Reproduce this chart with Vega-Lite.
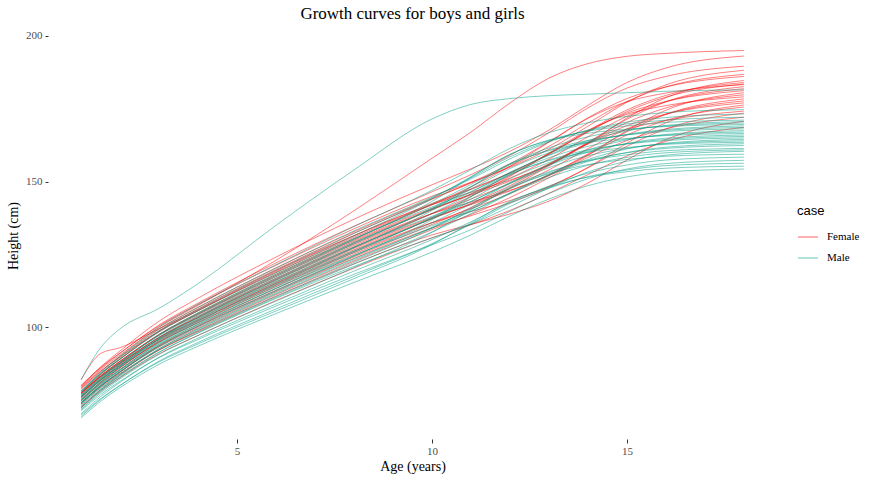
{
"$schema":"https://vega.github.io/schema/vega-lite/v6.json",
"width":729,"height":407,
"autosize":"none",
"padding":{"left":48,"top":32,"right":99,"bottom":45},
"background":"white",
"title":{"text":"Growth curves for boys and girls","font":"Liberation Serif","fontSize":17,"fontWeight":"normal","color":"#000000","anchor":"middle","offset":7},
"config":{
"view":{"stroke":null},
"axis":{"domain":false,"grid":false,"tickColor":"#333333","labelFont":"Liberation Serif","labelFontSize":11,"labelColor":"#4D4D4D","titleFont":"Liberation Serif","titleFontSize":14,"titleFontWeight":"normal","titleColor":"#000000"},
"axisX":{"tickSize":4,"labelPadding":2,"titlePadding":3},
"axisY":{"tickSize":3,"labelPadding":3,"titlePadding":5},
"legend":{"padding":0}
},
"data":{"values":[
{"i":1,"c":"F","a":1,"h":72.4},{"i":1,"c":"F","a":1.5,"h":78.1},{"i":1,"c":"F","a":2,"h":82.7},{"i":1,"c":"F","a":3,"h":90.9},{"i":1,"c":"F","a":4,"h":97.2},{"i":1,"c":"F","a":6,"h":109.2},{"i":1,"c":"F","a":8,"h":120.3},{"i":1,"c":"F","a":10,"h":130.7},{"i":1,"c":"F","a":11,"h":135.2},{"i":1,"c":"F","a":12,"h":140.1},{"i":1,"c":"F","a":13,"h":146.0},{"i":1,"c":"F","a":14,"h":152.4},{"i":1,"c":"F","a":15,"h":158.8},{"i":1,"c":"F","a":16,"h":163.8},{"i":1,"c":"F","a":18,"h":168.6},
{"i":2,"c":"F","a":1,"h":74.1},{"i":2,"c":"F","a":1.5,"h":79.7},{"i":2,"c":"F","a":2,"h":84.2},{"i":2,"c":"F","a":3,"h":92.2},{"i":2,"c":"F","a":4,"h":98.5},{"i":2,"c":"F","a":6,"h":110.6},{"i":2,"c":"F","a":8,"h":121.8},{"i":2,"c":"F","a":10,"h":131.7},{"i":2,"c":"F","a":11,"h":135.3},{"i":2,"c":"F","a":12,"h":138.9},{"i":2,"c":"F","a":13,"h":143.3},{"i":2,"c":"F","a":14,"h":149.5},{"i":2,"c":"F","a":15,"h":157.4},{"i":2,"c":"F","a":16,"h":164.4},{"i":2,"c":"F","a":18,"h":170.7},
{"i":3,"c":"F","a":1,"h":72.6},{"i":3,"c":"F","a":1.5,"h":78.6},{"i":3,"c":"F","a":2,"h":83.5},{"i":3,"c":"F","a":3,"h":92.2},{"i":3,"c":"F","a":4,"h":98.9},{"i":3,"c":"F","a":6,"h":111.2},{"i":3,"c":"F","a":8,"h":122.7},{"i":3,"c":"F","a":10,"h":133.5},{"i":3,"c":"F","a":11,"h":138.7},{"i":3,"c":"F","a":12,"h":144.5},{"i":3,"c":"F","a":13,"h":151.3},{"i":3,"c":"F","a":14,"h":158.3},{"i":3,"c":"F","a":15,"h":164.1},{"i":3,"c":"F","a":16,"h":168.1},{"i":3,"c":"F","a":18,"h":172.1},
{"i":4,"c":"F","a":1,"h":74.1},{"i":4,"c":"F","a":1.5,"h":79.9},{"i":4,"c":"F","a":2,"h":84.7},{"i":4,"c":"F","a":3,"h":93.2},{"i":4,"c":"F","a":4,"h":99.8},{"i":4,"c":"F","a":6,"h":112.2},{"i":4,"c":"F","a":8,"h":123.7},{"i":4,"c":"F","a":10,"h":134.1},{"i":4,"c":"F","a":11,"h":138.3},{"i":4,"c":"F","a":12,"h":142.7},{"i":4,"c":"F","a":13,"h":148.1},{"i":4,"c":"F","a":14,"h":154.7},{"i":4,"c":"F","a":15,"h":162.1},{"i":4,"c":"F","a":16,"h":168.1},{"i":4,"c":"F","a":18,"h":173.5},
{"i":5,"c":"F","a":1,"h":74.8},{"i":5,"c":"F","a":1.5,"h":80.6},{"i":5,"c":"F","a":2,"h":85.3},{"i":5,"c":"F","a":3,"h":93.7},{"i":5,"c":"F","a":4,"h":100.3},{"i":5,"c":"F","a":6,"h":112.7},{"i":5,"c":"F","a":8,"h":124.2},{"i":5,"c":"F","a":10,"h":135.3},{"i":5,"c":"F","a":11,"h":141.1},{"i":5,"c":"F","a":12,"h":147.8},{"i":5,"c":"F","a":13,"h":155.4},{"i":5,"c":"F","a":14,"h":162.9},{"i":5,"c":"F","a":15,"h":168.0},{"i":5,"c":"F","a":16,"h":171.0},{"i":5,"c":"F","a":18,"h":174.2},
{"i":6,"c":"F","a":1,"h":73.3},{"i":6,"c":"F","a":1.5,"h":79.5},{"i":6,"c":"F","a":2,"h":84.6},{"i":6,"c":"F","a":3,"h":93.7},{"i":6,"c":"F","a":4,"h":100.6},{"i":6,"c":"F","a":6,"h":113.3},{"i":6,"c":"F","a":8,"h":125.1},{"i":6,"c":"F","a":10,"h":135.9},{"i":6,"c":"F","a":11,"h":140.7},{"i":6,"c":"F","a":12,"h":145.9},{"i":6,"c":"F","a":13,"h":152.2},{"i":6,"c":"F","a":14,"h":159.2},{"i":6,"c":"F","a":15,"h":166.0},{"i":6,"c":"F","a":16,"h":171.0},{"i":6,"c":"F","a":18,"h":175.6},
{"i":7,"c":"F","a":1,"h":76.1},{"i":7,"c":"F","a":1.5,"h":81.7},{"i":7,"c":"F","a":2,"h":86.4},{"i":7,"c":"F","a":3,"h":94.9},{"i":7,"c":"F","a":4,"h":101.5},{"i":7,"c":"F","a":6,"h":114.0},{"i":7,"c":"F","a":8,"h":125.6},{"i":7,"c":"F","a":10,"h":135.9},{"i":7,"c":"F","a":11,"h":139.7},{"i":7,"c":"F","a":12,"h":143.5},{"i":7,"c":"F","a":13,"h":148.3},{"i":7,"c":"F","a":14,"h":154.9},{"i":7,"c":"F","a":15,"h":163.2},{"i":7,"c":"F","a":16,"h":170.2},{"i":7,"c":"F","a":18,"h":176.3},
{"i":8,"c":"F","a":1,"h":75.3},{"i":8,"c":"F","a":1.5,"h":81.2},{"i":8,"c":"F","a":2,"h":86.1},{"i":8,"c":"F","a":3,"h":94.9},{"i":8,"c":"F","a":4,"h":101.7},{"i":8,"c":"F","a":6,"h":114.4},{"i":8,"c":"F","a":8,"h":126.1},{"i":8,"c":"F","a":10,"h":137.2},{"i":8,"c":"F","a":11,"h":142.5},{"i":8,"c":"F","a":12,"h":148.6},{"i":8,"c":"F","a":13,"h":155.7},{"i":8,"c":"F","a":14,"h":163.1},{"i":8,"c":"F","a":15,"h":169.2},{"i":8,"c":"F","a":16,"h":173.2},{"i":8,"c":"F","a":18,"h":177.0},
{"i":9,"c":"F","a":1,"h":77.5},{"i":9,"c":"F","a":1.5,"h":83.1},{"i":9,"c":"F","a":2,"h":87.6},{"i":9,"c":"F","a":3,"h":95.9},{"i":9,"c":"F","a":4,"h":102.4},{"i":9,"c":"F","a":6,"h":115.0},{"i":9,"c":"F","a":8,"h":126.6},{"i":9,"c":"F","a":10,"h":137.4},{"i":9,"c":"F","a":11,"h":142.3},{"i":9,"c":"F","a":12,"h":147.7},{"i":9,"c":"F","a":13,"h":154.0},{"i":9,"c":"F","a":14,"h":161.3},{"i":9,"c":"F","a":15,"h":168.1},{"i":9,"c":"F","a":16,"h":173.1},{"i":9,"c":"F","a":18,"h":177.7},
{"i":10,"c":"F","a":1,"h":74.8},{"i":10,"c":"F","a":1.5,"h":80.9},{"i":10,"c":"F","a":2,"h":86.1},{"i":10,"c":"F","a":3,"h":95.2},{"i":10,"c":"F","a":4,"h":102.2},{"i":10,"c":"F","a":6,"h":115.1},{"i":10,"c":"F","a":8,"h":127.1},{"i":10,"c":"F","a":10,"h":137.7},{"i":10,"c":"F","a":11,"h":142.1},{"i":10,"c":"F","a":12,"h":146.8},{"i":10,"c":"F","a":13,"h":152.4},{"i":10,"c":"F","a":14,"h":159.5},{"i":10,"c":"F","a":15,"h":167.1},{"i":10,"c":"F","a":16,"h":173.1},{"i":10,"c":"F","a":18,"h":178.4},
{"i":11,"c":"F","a":1,"h":76.0},{"i":11,"c":"F","a":1.5,"h":82.0},{"i":11,"c":"F","a":2,"h":86.9},{"i":11,"c":"F","a":3,"h":95.8},{"i":11,"c":"F","a":4,"h":102.8},{"i":11,"c":"F","a":6,"h":115.6},{"i":11,"c":"F","a":8,"h":127.5},{"i":11,"c":"F","a":10,"h":139.0},{"i":11,"c":"F","a":11,"h":144.9},{"i":11,"c":"F","a":12,"h":151.8},{"i":11,"c":"F","a":13,"h":159.8},{"i":11,"c":"F","a":14,"h":167.6},{"i":11,"c":"F","a":15,"h":173.1},{"i":11,"c":"F","a":16,"h":176.1},{"i":11,"c":"F","a":18,"h":179.1},
{"i":12,"c":"F","a":1,"h":77.3},{"i":12,"c":"F","a":1.5,"h":83.0},{"i":12,"c":"F","a":2,"h":87.8},{"i":12,"c":"F","a":3,"h":96.5},{"i":12,"c":"F","a":4,"h":103.3},{"i":12,"c":"F","a":6,"h":116.2},{"i":12,"c":"F","a":8,"h":128.0},{"i":12,"c":"F","a":10,"h":139.0},{"i":12,"c":"F","a":11,"h":144.0},{"i":12,"c":"F","a":12,"h":149.4},{"i":12,"c":"F","a":13,"h":155.9},{"i":12,"c":"F","a":14,"h":163.3},{"i":12,"c":"F","a":15,"h":170.3},{"i":12,"c":"F","a":16,"h":175.3},{"i":12,"c":"F","a":18,"h":179.8},
{"i":13,"c":"F","a":1,"h":76.5},{"i":13,"c":"F","a":1.5,"h":82.5},{"i":13,"c":"F","a":2,"h":87.5},{"i":13,"c":"F","a":3,"h":96.5},{"i":13,"c":"F","a":4,"h":103.5},{"i":13,"c":"F","a":6,"h":116.5},{"i":13,"c":"F","a":8,"h":128.5},{"i":13,"c":"F","a":10,"h":139.0},{"i":13,"c":"F","a":11,"h":143.0},{"i":13,"c":"F","a":12,"h":147.0},{"i":13,"c":"F","a":13,"h":152.0},{"i":13,"c":"F","a":14,"h":159.0},{"i":13,"c":"F","a":15,"h":167.5},{"i":13,"c":"F","a":16,"h":174.5},{"i":13,"c":"F","a":18,"h":180.5},
{"i":14,"c":"F","a":1,"h":75.7},{"i":14,"c":"F","a":1.5,"h":82.0},{"i":14,"c":"F","a":2,"h":87.2},{"i":14,"c":"F","a":3,"h":96.5},{"i":14,"c":"F","a":4,"h":103.7},{"i":14,"c":"F","a":6,"h":116.8},{"i":14,"c":"F","a":8,"h":129.0},{"i":14,"c":"F","a":10,"h":140.3},{"i":14,"c":"F","a":11,"h":145.8},{"i":14,"c":"F","a":12,"h":152.1},{"i":14,"c":"F","a":13,"h":159.4},{"i":14,"c":"F","a":14,"h":167.2},{"i":14,"c":"F","a":15,"h":173.5},{"i":14,"c":"F","a":16,"h":177.5},{"i":14,"c":"F","a":18,"h":181.2},
{"i":15,"c":"F","a":1,"h":77.5},{"i":15,"c":"F","a":1.5,"h":83.4},{"i":15,"c":"F","a":2,"h":88.4},{"i":15,"c":"F","a":3,"h":97.3},{"i":15,"c":"F","a":4,"h":104.3},{"i":15,"c":"F","a":6,"h":117.4},{"i":15,"c":"F","a":8,"h":129.5},{"i":15,"c":"F","a":10,"h":140.5},{"i":15,"c":"F","a":11,"h":145.6},{"i":15,"c":"F","a":12,"h":151.2},{"i":15,"c":"F","a":13,"h":157.7},{"i":15,"c":"F","a":14,"h":165.4},{"i":15,"c":"F","a":15,"h":172.4},{"i":15,"c":"F","a":16,"h":177.4},{"i":15,"c":"F","a":18,"h":181.9},
{"i":16,"c":"F","a":1,"h":77.2},{"i":16,"c":"F","a":1.5,"h":83.3},{"i":16,"c":"F","a":2,"h":88.3},{"i":16,"c":"F","a":3,"h":97.5},{"i":16,"c":"F","a":4,"h":104.6},{"i":16,"c":"F","a":6,"h":117.8},{"i":16,"c":"F","a":8,"h":129.9},{"i":16,"c":"F","a":10,"h":140.8},{"i":16,"c":"F","a":11,"h":145.4},{"i":16,"c":"F","a":12,"h":150.2},{"i":16,"c":"F","a":13,"h":156.1},{"i":16,"c":"F","a":14,"h":163.5},{"i":16,"c":"F","a":15,"h":171.4},{"i":16,"c":"F","a":16,"h":177.4},{"i":16,"c":"F","a":18,"h":182.6},
{"i":17,"c":"F","a":1,"h":77.0},{"i":17,"c":"F","a":1.5,"h":83.1},{"i":17,"c":"F","a":2,"h":88.3},{"i":17,"c":"F","a":3,"h":97.6},{"i":17,"c":"F","a":4,"h":104.9},{"i":17,"c":"F","a":6,"h":118.2},{"i":17,"c":"F","a":8,"h":130.4},{"i":17,"c":"F","a":10,"h":142.1},{"i":17,"c":"F","a":11,"h":148.2},{"i":17,"c":"F","a":12,"h":155.3},{"i":17,"c":"F","a":13,"h":163.5},{"i":17,"c":"F","a":14,"h":171.7},{"i":17,"c":"F","a":15,"h":177.4},{"i":17,"c":"F","a":16,"h":180.4},{"i":17,"c":"F","a":18,"h":183.3},
{"i":18,"c":"F","a":1,"h":79.2},{"i":18,"c":"F","a":1.5,"h":85.0},{"i":18,"c":"F","a":2,"h":89.8},{"i":18,"c":"F","a":3,"h":98.7},{"i":18,"c":"F","a":4,"h":105.7},{"i":18,"c":"F","a":6,"h":118.8},{"i":18,"c":"F","a":8,"h":130.9},{"i":18,"c":"F","a":10,"h":142.1},{"i":18,"c":"F","a":11,"h":147.3},{"i":18,"c":"F","a":12,"h":152.9},{"i":18,"c":"F","a":13,"h":159.6},{"i":18,"c":"F","a":14,"h":167.4},{"i":18,"c":"F","a":15,"h":174.6},{"i":18,"c":"F","a":16,"h":179.6},{"i":18,"c":"F","a":18,"h":184.0},
{"i":19,"c":"F","a":1,"h":77.9},{"i":19,"c":"F","a":1.5,"h":84.1},{"i":19,"c":"F","a":2,"h":89.2},{"i":19,"c":"F","a":3,"h":98.5},{"i":19,"c":"F","a":4,"h":105.7},{"i":19,"c":"F","a":6,"h":119.1},{"i":19,"c":"F","a":8,"h":131.4},{"i":19,"c":"F","a":10,"h":142.1},{"i":19,"c":"F","a":11,"h":146.3},{"i":19,"c":"F","a":12,"h":150.5},{"i":19,"c":"F","a":13,"h":155.7},{"i":19,"c":"F","a":14,"h":163.1},{"i":19,"c":"F","a":15,"h":171.8},{"i":19,"c":"F","a":16,"h":178.8},{"i":19,"c":"F","a":18,"h":184.7},
{"i":20,"c":"F","a":1,"h":77.4},{"i":20,"c":"F","a":1.5,"h":83.8},{"i":20,"c":"F","a":2,"h":89.1},{"i":20,"c":"F","a":3,"h":98.8},{"i":20,"c":"F","a":4,"h":106.3},{"i":20,"c":"F","a":6,"h":119.8},{"i":20,"c":"F","a":8,"h":132.3},{"i":20,"c":"F","a":10,"h":143.9},{"i":20,"c":"F","a":11,"h":149.7},{"i":20,"c":"F","a":12,"h":156.1},{"i":20,"c":"F","a":13,"h":163.7},{"i":20,"c":"F","a":14,"h":171.9},{"i":20,"c":"F","a":15,"h":178.5},{"i":20,"c":"F","a":16,"h":182.5},{"i":20,"c":"F","a":18,"h":186.1},
{"i":21,"c":"F","a":1,"h":78.7},{"i":21,"c":"F","a":1.5,"h":84.8},{"i":21,"c":"F","a":2,"h":90.0},{"i":21,"c":"F","a":3,"h":99.5},{"i":21,"c":"F","a":4,"h":106.8},{"i":21,"c":"F","a":6,"h":120.4},{"i":21,"c":"F","a":8,"h":132.8},{"i":21,"c":"F","a":10,"h":144.2},{"i":21,"c":"F","a":11,"h":149.5},{"i":21,"c":"F","a":12,"h":155.2},{"i":21,"c":"F","a":13,"h":162.1},{"i":21,"c":"F","a":14,"h":170.1},{"i":21,"c":"F","a":15,"h":177.5},{"i":21,"c":"F","a":16,"h":182.5},{"i":21,"c":"F","a":18,"h":186.8},
{"i":22,"c":"F","a":1,"h":80.1},{"i":22,"c":"F","a":1.5,"h":86.2},{"i":22,"c":"F","a":2,"h":91.2},{"i":22,"c":"F","a":3,"h":100.5},{"i":22,"c":"F","a":4,"h":107.8},{"i":22,"c":"F","a":6,"h":121.3},{"i":22,"c":"F","a":8,"h":133.8},{"i":22,"c":"F","a":10,"h":145.0},{"i":22,"c":"F","a":11,"h":149.8},{"i":22,"c":"F","a":12,"h":154.9},{"i":22,"c":"F","a":13,"h":161.1},{"i":22,"c":"F","a":14,"h":169.0},{"i":22,"c":"F","a":15,"h":177.2},{"i":22,"c":"F","a":16,"h":183.2},{"i":22,"c":"F","a":18,"h":188.2},
{"i":23,"c":"F","a":1,"h":79.6},{"i":23,"c":"F","a":1.5,"h":85.9},{"i":23,"c":"F","a":2,"h":91.1},{"i":23,"c":"F","a":3,"h":100.8},{"i":23,"c":"F","a":4,"h":108.3},{"i":23,"c":"F","a":6,"h":122.1},{"i":23,"c":"F","a":8,"h":134.7},{"i":23,"c":"F","a":10,"h":146.5},{"i":23,"c":"F","a":11,"h":152.4},{"i":23,"c":"F","a":12,"h":159.0},{"i":23,"c":"F","a":13,"h":166.8},{"i":23,"c":"F","a":14,"h":175.3},{"i":23,"c":"F","a":15,"h":182.1},{"i":23,"c":"F","a":16,"h":186.1},{"i":23,"c":"F","a":18,"h":189.6},
{"i":24,"c":"F","a":1,"h":79.8},{"i":24,"c":"F","a":1.5,"h":86.4},{"i":24,"c":"F","a":2,"h":91.9},{"i":24,"c":"F","a":3,"h":102.1},{"i":24,"c":"F","a":4,"h":110.0},{"i":24,"c":"F","a":6,"h":124.1},{"i":24,"c":"F","a":8,"h":137.1},{"i":24,"c":"F","a":10,"h":148.9},{"i":24,"c":"F","a":11,"h":154.4},{"i":24,"c":"F","a":12,"h":160.4},{"i":24,"c":"F","a":13,"h":167.7},{"i":24,"c":"F","a":14,"h":176.2},{"i":24,"c":"F","a":15,"h":184.0},{"i":24,"c":"F","a":16,"h":189.0},{"i":24,"c":"F","a":18,"h":193.1},
{"i":25,"c":"F","a":1,"h":79.0},{"i":25,"c":"F","a":1.5,"h":85.5},{"i":25,"c":"F","a":2,"h":90.5},{"i":25,"c":"F","a":3,"h":100.0},{"i":25,"c":"F","a":4,"h":107.5},{"i":25,"c":"F","a":6,"h":123.0},{"i":25,"c":"F","a":8,"h":140.0},{"i":25,"c":"F","a":10,"h":158.0},{"i":25,"c":"F","a":11,"h":167.0},{"i":25,"c":"F","a":12,"h":177.0},{"i":25,"c":"F","a":13,"h":185.5},{"i":25,"c":"F","a":14,"h":190.5},{"i":25,"c":"F","a":15,"h":193.0},{"i":25,"c":"F","a":16,"h":194.0},{"i":25,"c":"F","a":18,"h":195.0},
{"i":26,"c":"F","a":1,"h":82.0},{"i":26,"c":"F","a":1.5,"h":91.0},{"i":26,"c":"F","a":2,"h":93.0},{"i":26,"c":"F","a":3,"h":99.5},{"i":26,"c":"F","a":4,"h":106.0},{"i":26,"c":"F","a":6,"h":119.5},{"i":26,"c":"F","a":8,"h":131.5},{"i":26,"c":"F","a":10,"h":142.5},{"i":26,"c":"F","a":11,"h":147.5},{"i":26,"c":"F","a":12,"h":153.0},{"i":26,"c":"F","a":13,"h":159.5},{"i":26,"c":"F","a":14,"h":167.0},{"i":26,"c":"F","a":15,"h":174.0},{"i":26,"c":"F","a":16,"h":179.0},{"i":26,"c":"F","a":18,"h":183.5},
{"i":31,"c":"M","a":1,"h":68.9},{"i":31,"c":"M","a":1.5,"h":74.6},{"i":31,"c":"M","a":2,"h":79.3},{"i":31,"c":"M","a":3,"h":87.3},{"i":31,"c":"M","a":4,"h":93.5},{"i":31,"c":"M","a":6,"h":104.7},{"i":31,"c":"M","a":8,"h":115.4},{"i":31,"c":"M","a":10,"h":125.8},{"i":31,"c":"M","a":11,"h":131.7},{"i":31,"c":"M","a":12,"h":138.2},{"i":31,"c":"M","a":13,"h":144.0},{"i":31,"c":"M","a":14,"h":148.6},{"i":31,"c":"M","a":15,"h":151.6},{"i":31,"c":"M","a":16,"h":153.3},{"i":31,"c":"M","a":18,"h":154.3},
{"i":32,"c":"M","a":1,"h":69.9},{"i":32,"c":"M","a":1.5,"h":75.5},{"i":32,"c":"M","a":2,"h":80.1},{"i":32,"c":"M","a":3,"h":88.1},{"i":32,"c":"M","a":4,"h":94.3},{"i":32,"c":"M","a":6,"h":105.6},{"i":32,"c":"M","a":8,"h":116.7},{"i":32,"c":"M","a":10,"h":128.4},{"i":32,"c":"M","a":11,"h":135.8},{"i":32,"c":"M","a":12,"h":143.2},{"i":32,"c":"M","a":13,"h":148.1},{"i":32,"c":"M","a":14,"h":151.5},{"i":32,"c":"M","a":15,"h":153.4},{"i":32,"c":"M","a":16,"h":154.6},{"i":32,"c":"M","a":18,"h":155.3},
{"i":33,"c":"M","a":1,"h":69.4},{"i":33,"c":"M","a":1.5,"h":75.2},{"i":33,"c":"M","a":2,"h":80.0},{"i":33,"c":"M","a":3,"h":88.4},{"i":33,"c":"M","a":4,"h":94.8},{"i":33,"c":"M","a":6,"h":106.3},{"i":33,"c":"M","a":8,"h":117.5},{"i":33,"c":"M","a":10,"h":128.7},{"i":33,"c":"M","a":11,"h":135.4},{"i":33,"c":"M","a":12,"h":142.5},{"i":33,"c":"M","a":13,"h":147.7},{"i":33,"c":"M","a":14,"h":151.7},{"i":33,"c":"M","a":15,"h":154.0},{"i":33,"c":"M","a":16,"h":155.5},{"i":33,"c":"M","a":18,"h":156.3},
{"i":34,"c":"M","a":1,"h":71.3},{"i":34,"c":"M","a":1.5,"h":76.9},{"i":34,"c":"M","a":2,"h":81.5},{"i":34,"c":"M","a":3,"h":89.6},{"i":34,"c":"M","a":4,"h":95.8},{"i":34,"c":"M","a":6,"h":107.3},{"i":34,"c":"M","a":8,"h":118.2},{"i":34,"c":"M","a":10,"h":128.3},{"i":34,"c":"M","a":11,"h":133.5},{"i":34,"c":"M","a":12,"h":139.8},{"i":34,"c":"M","a":13,"h":145.9},{"i":34,"c":"M","a":14,"h":151.0},{"i":34,"c":"M","a":15,"h":154.3},{"i":34,"c":"M","a":16,"h":156.2},{"i":34,"c":"M","a":18,"h":157.3},
{"i":35,"c":"M","a":1,"h":70.3},{"i":35,"c":"M","a":1.5,"h":76.2},{"i":35,"c":"M","a":2,"h":81.1},{"i":35,"c":"M","a":3,"h":89.7},{"i":35,"c":"M","a":4,"h":96.3},{"i":35,"c":"M","a":6,"h":108.0},{"i":35,"c":"M","a":8,"h":119.3},{"i":35,"c":"M","a":10,"h":130.1},{"i":35,"c":"M","a":11,"h":136.2},{"i":35,"c":"M","a":12,"h":142.9},{"i":35,"c":"M","a":13,"h":148.5},{"i":35,"c":"M","a":14,"h":152.9},{"i":35,"c":"M","a":15,"h":155.7},{"i":35,"c":"M","a":16,"h":157.4},{"i":35,"c":"M","a":18,"h":158.4},
{"i":36,"c":"M","a":1,"h":71.7},{"i":36,"c":"M","a":1.5,"h":77.5},{"i":36,"c":"M","a":2,"h":82.3},{"i":36,"c":"M","a":3,"h":90.7},{"i":36,"c":"M","a":4,"h":97.2},{"i":36,"c":"M","a":6,"h":109.0},{"i":36,"c":"M","a":8,"h":120.5},{"i":36,"c":"M","a":10,"h":132.6},{"i":36,"c":"M","a":11,"h":140.3},{"i":36,"c":"M","a":12,"h":147.8},{"i":36,"c":"M","a":13,"h":152.7},{"i":36,"c":"M","a":14,"h":155.8},{"i":36,"c":"M","a":15,"h":157.6},{"i":36,"c":"M","a":16,"h":158.7},{"i":36,"c":"M","a":18,"h":159.4},
{"i":37,"c":"M","a":1,"h":72.7},{"i":37,"c":"M","a":1.5,"h":78.4},{"i":37,"c":"M","a":2,"h":83.1},{"i":37,"c":"M","a":3,"h":91.5},{"i":37,"c":"M","a":4,"h":98.0},{"i":37,"c":"M","a":6,"h":109.9},{"i":37,"c":"M","a":8,"h":120.9},{"i":37,"c":"M","a":10,"h":130.7},{"i":37,"c":"M","a":11,"h":135.4},{"i":37,"c":"M","a":12,"h":141.4},{"i":37,"c":"M","a":13,"h":147.8},{"i":37,"c":"M","a":14,"h":153.3},{"i":37,"c":"M","a":15,"h":157.0},{"i":37,"c":"M","a":16,"h":159.1},{"i":37,"c":"M","a":18,"h":160.4},
{"i":38,"c":"M","a":1,"h":71.9},{"i":38,"c":"M","a":1.5,"h":77.9},{"i":38,"c":"M","a":2,"h":82.8},{"i":38,"c":"M","a":3,"h":91.4},{"i":38,"c":"M","a":4,"h":98.2},{"i":38,"c":"M","a":6,"h":110.2},{"i":38,"c":"M","a":8,"h":121.7},{"i":38,"c":"M","a":10,"h":132.7},{"i":38,"c":"M","a":11,"h":139.0},{"i":38,"c":"M","a":12,"h":145.8},{"i":38,"c":"M","a":13,"h":151.4},{"i":38,"c":"M","a":14,"h":155.6},{"i":38,"c":"M","a":15,"h":158.3},{"i":38,"c":"M","a":16,"h":159.9},{"i":38,"c":"M","a":18,"h":160.9},
{"i":39,"c":"M","a":1,"h":73.7},{"i":39,"c":"M","a":1.5,"h":79.3},{"i":39,"c":"M","a":2,"h":83.9},{"i":39,"c":"M","a":3,"h":92.3},{"i":39,"c":"M","a":4,"h":98.8},{"i":39,"c":"M","a":6,"h":110.7},{"i":39,"c":"M","a":8,"h":122.3},{"i":39,"c":"M","a":10,"h":134.0},{"i":39,"c":"M","a":11,"h":141.0},{"i":39,"c":"M","a":12,"h":148.3},{"i":39,"c":"M","a":13,"h":153.4},{"i":39,"c":"M","a":14,"h":157.1},{"i":39,"c":"M","a":15,"h":159.2},{"i":39,"c":"M","a":16,"h":160.6},{"i":39,"c":"M","a":18,"h":161.4},
{"i":40,"c":"M","a":1,"h":73.1},{"i":40,"c":"M","a":1.5,"h":79.0},{"i":40,"c":"M","a":2,"h":83.9},{"i":40,"c":"M","a":3,"h":92.6},{"i":40,"c":"M","a":4,"h":99.3},{"i":40,"c":"M","a":6,"h":111.5},{"i":40,"c":"M","a":8,"h":123.1},{"i":40,"c":"M","a":10,"h":134.3},{"i":40,"c":"M","a":11,"h":140.6},{"i":40,"c":"M","a":12,"h":147.5},{"i":40,"c":"M","a":13,"h":153.1},{"i":40,"c":"M","a":14,"h":157.3},{"i":40,"c":"M","a":15,"h":159.9},{"i":40,"c":"M","a":16,"h":161.4},{"i":40,"c":"M","a":18,"h":162.4},
{"i":41,"c":"M","a":1,"h":72.4},{"i":41,"c":"M","a":1.5,"h":78.5},{"i":41,"c":"M","a":2,"h":83.6},{"i":41,"c":"M","a":3,"h":92.6},{"i":41,"c":"M","a":4,"h":99.5},{"i":41,"c":"M","a":6,"h":111.8},{"i":41,"c":"M","a":8,"h":123.5},{"i":41,"c":"M","a":10,"h":134.1},{"i":41,"c":"M","a":11,"h":139.7},{"i":41,"c":"M","a":12,"h":146.2},{"i":41,"c":"M","a":13,"h":152.2},{"i":41,"c":"M","a":14,"h":156.9},{"i":41,"c":"M","a":15,"h":160.0},{"i":41,"c":"M","a":16,"h":161.8},{"i":41,"c":"M","a":18,"h":163.0},
{"i":42,"c":"M","a":1,"h":74.1},{"i":42,"c":"M","a":1.5,"h":79.9},{"i":42,"c":"M","a":2,"h":84.7},{"i":42,"c":"M","a":3,"h":93.4},{"i":42,"c":"M","a":4,"h":100.2},{"i":42,"c":"M","a":6,"h":112.4},{"i":42,"c":"M","a":8,"h":124.4},{"i":42,"c":"M","a":10,"h":136.9},{"i":42,"c":"M","a":11,"h":144.8},{"i":42,"c":"M","a":12,"h":152.5},{"i":42,"c":"M","a":13,"h":157.2},{"i":42,"c":"M","a":14,"h":160.1},{"i":42,"c":"M","a":15,"h":161.7},{"i":42,"c":"M","a":16,"h":162.8},{"i":42,"c":"M","a":18,"h":163.5},
{"i":43,"c":"M","a":1,"h":73.8},{"i":43,"c":"M","a":1.5,"h":79.8},{"i":43,"c":"M","a":2,"h":84.7},{"i":43,"c":"M","a":3,"h":93.5},{"i":43,"c":"M","a":4,"h":100.4},{"i":43,"c":"M","a":6,"h":112.7},{"i":43,"c":"M","a":8,"h":124.6},{"i":43,"c":"M","a":10,"h":135.9},{"i":43,"c":"M","a":11,"h":142.3},{"i":43,"c":"M","a":12,"h":149.3},{"i":43,"c":"M","a":13,"h":154.8},{"i":43,"c":"M","a":14,"h":158.9},{"i":43,"c":"M","a":15,"h":161.4},{"i":43,"c":"M","a":16,"h":163.0},{"i":43,"c":"M","a":18,"h":164.0},
{"i":44,"c":"M","a":1,"h":75.0},{"i":44,"c":"M","a":1.5,"h":80.8},{"i":44,"c":"M","a":2,"h":85.6},{"i":44,"c":"M","a":3,"h":94.2},{"i":44,"c":"M","a":4,"h":101.0},{"i":44,"c":"M","a":6,"h":113.3},{"i":44,"c":"M","a":8,"h":124.7},{"i":44,"c":"M","a":10,"h":134.9},{"i":44,"c":"M","a":11,"h":139.9},{"i":44,"c":"M","a":12,"h":146.0},{"i":44,"c":"M","a":13,"h":152.4},{"i":44,"c":"M","a":14,"h":157.6},{"i":44,"c":"M","a":15,"h":161.2},{"i":44,"c":"M","a":16,"h":163.2},{"i":44,"c":"M","a":18,"h":164.5},
{"i":45,"c":"M","a":1,"h":73.8},{"i":45,"c":"M","a":1.5,"h":79.9},{"i":45,"c":"M","a":2,"h":84.9},{"i":45,"c":"M","a":3,"h":94.0},{"i":45,"c":"M","a":4,"h":101.0},{"i":45,"c":"M","a":6,"h":113.5},{"i":45,"c":"M","a":8,"h":125.7},{"i":45,"c":"M","a":10,"h":137.7},{"i":45,"c":"M","a":11,"h":144.9},{"i":45,"c":"M","a":12,"h":152.3},{"i":45,"c":"M","a":13,"h":157.4},{"i":45,"c":"M","a":14,"h":160.9},{"i":45,"c":"M","a":15,"h":162.9},{"i":45,"c":"M","a":16,"h":164.1},{"i":45,"c":"M","a":18,"h":165.0},
{"i":46,"c":"M","a":1,"h":74.5},{"i":46,"c":"M","a":1.5,"h":80.5},{"i":46,"c":"M","a":2,"h":85.5},{"i":46,"c":"M","a":3,"h":94.5},{"i":46,"c":"M","a":4,"h":101.5},{"i":46,"c":"M","a":6,"h":114.0},{"i":46,"c":"M","a":8,"h":126.0},{"i":46,"c":"M","a":10,"h":137.5},{"i":46,"c":"M","a":11,"h":144.0},{"i":46,"c":"M","a":12,"h":151.0},{"i":46,"c":"M","a":13,"h":156.5},{"i":46,"c":"M","a":14,"h":160.5},{"i":46,"c":"M","a":15,"h":163.0},{"i":46,"c":"M","a":16,"h":164.5},{"i":46,"c":"M","a":18,"h":165.5},
{"i":47,"c":"M","a":1,"h":76.2},{"i":47,"c":"M","a":1.5,"h":82.0},{"i":47,"c":"M","a":2,"h":86.7},{"i":47,"c":"M","a":3,"h":95.4},{"i":47,"c":"M","a":4,"h":102.2},{"i":47,"c":"M","a":6,"h":114.6},{"i":47,"c":"M","a":8,"h":126.3},{"i":47,"c":"M","a":10,"h":137.3},{"i":47,"c":"M","a":11,"h":143.1},{"i":47,"c":"M","a":12,"h":149.7},{"i":47,"c":"M","a":13,"h":155.6},{"i":47,"c":"M","a":14,"h":160.1},{"i":47,"c":"M","a":15,"h":163.1},{"i":47,"c":"M","a":16,"h":164.9},{"i":47,"c":"M","a":18,"h":166.0},
{"i":48,"c":"M","a":1,"h":74.0},{"i":48,"c":"M","a":1.5,"h":80.2},{"i":48,"c":"M","a":2,"h":85.4},{"i":48,"c":"M","a":3,"h":94.8},{"i":48,"c":"M","a":4,"h":102.0},{"i":48,"c":"M","a":6,"h":114.7},{"i":48,"c":"M","a":8,"h":127.3},{"i":48,"c":"M","a":10,"h":140.1},{"i":48,"c":"M","a":11,"h":148.1},{"i":48,"c":"M","a":12,"h":156.0},{"i":48,"c":"M","a":13,"h":160.6},{"i":48,"c":"M","a":14,"h":163.4},{"i":48,"c":"M","a":15,"h":164.8},{"i":48,"c":"M","a":16,"h":165.8},{"i":48,"c":"M","a":18,"h":166.5},
{"i":49,"c":"M","a":1,"h":75.2},{"i":49,"c":"M","a":1.5,"h":81.3},{"i":49,"c":"M","a":2,"h":86.3},{"i":49,"c":"M","a":3,"h":95.5},{"i":49,"c":"M","a":4,"h":102.6},{"i":49,"c":"M","a":6,"h":115.3},{"i":49,"c":"M","a":8,"h":127.4},{"i":49,"c":"M","a":10,"h":139.1},{"i":49,"c":"M","a":11,"h":145.7},{"i":49,"c":"M","a":12,"h":152.7},{"i":49,"c":"M","a":13,"h":158.2},{"i":49,"c":"M","a":14,"h":162.1},{"i":49,"c":"M","a":15,"h":164.6},{"i":49,"c":"M","a":16,"h":166.0},{"i":49,"c":"M","a":18,"h":167.0},
{"i":50,"c":"M","a":1,"h":75.9},{"i":50,"c":"M","a":1.5,"h":81.9},{"i":50,"c":"M","a":2,"h":86.9},{"i":50,"c":"M","a":3,"h":96.0},{"i":50,"c":"M","a":4,"h":103.0},{"i":50,"c":"M","a":6,"h":115.7},{"i":50,"c":"M","a":8,"h":127.6},{"i":50,"c":"M","a":10,"h":138.1},{"i":50,"c":"M","a":11,"h":143.2},{"i":50,"c":"M","a":12,"h":149.5},{"i":50,"c":"M","a":13,"h":155.8},{"i":50,"c":"M","a":14,"h":160.9},{"i":50,"c":"M","a":15,"h":164.3},{"i":50,"c":"M","a":16,"h":166.2},{"i":50,"c":"M","a":18,"h":167.5},
{"i":51,"c":"M","a":1,"h":75.7},{"i":51,"c":"M","a":1.5,"h":81.8},{"i":51,"c":"M","a":2,"h":86.9},{"i":51,"c":"M","a":3,"h":96.1},{"i":51,"c":"M","a":4,"h":103.3},{"i":51,"c":"M","a":6,"h":116.1},{"i":51,"c":"M","a":8,"h":128.6},{"i":51,"c":"M","a":10,"h":140.9},{"i":51,"c":"M","a":11,"h":148.3},{"i":51,"c":"M","a":12,"h":155.8},{"i":51,"c":"M","a":13,"h":160.9},{"i":51,"c":"M","a":14,"h":164.1},{"i":51,"c":"M","a":15,"h":166.0},{"i":51,"c":"M","a":16,"h":167.2},{"i":51,"c":"M","a":18,"h":168.1},
{"i":52,"c":"M","a":1,"h":74.9},{"i":52,"c":"M","a":1.5,"h":81.2},{"i":52,"c":"M","a":2,"h":86.5},{"i":52,"c":"M","a":3,"h":96.1},{"i":52,"c":"M","a":4,"h":103.5},{"i":52,"c":"M","a":6,"h":116.4},{"i":52,"c":"M","a":8,"h":128.9},{"i":52,"c":"M","a":10,"h":140.7},{"i":52,"c":"M","a":11,"h":147.4},{"i":52,"c":"M","a":12,"h":154.5},{"i":52,"c":"M","a":13,"h":159.9},{"i":52,"c":"M","a":14,"h":163.7},{"i":52,"c":"M","a":15,"h":166.1},{"i":52,"c":"M","a":16,"h":167.6},{"i":52,"c":"M","a":18,"h":168.6},
{"i":53,"c":"M","a":1,"h":76.1},{"i":53,"c":"M","a":1.5,"h":82.3},{"i":53,"c":"M","a":2,"h":87.4},{"i":53,"c":"M","a":3,"h":96.7},{"i":53,"c":"M","a":4,"h":104.0},{"i":53,"c":"M","a":6,"h":116.9},{"i":53,"c":"M","a":8,"h":129.2},{"i":53,"c":"M","a":10,"h":140.5},{"i":53,"c":"M","a":11,"h":146.4},{"i":53,"c":"M","a":12,"h":153.2},{"i":53,"c":"M","a":13,"h":159.0},{"i":53,"c":"M","a":14,"h":163.4},{"i":53,"c":"M","a":15,"h":166.2},{"i":53,"c":"M","a":16,"h":167.9},{"i":53,"c":"M","a":18,"h":169.1},
{"i":54,"c":"M","a":1,"h":76.8},{"i":54,"c":"M","a":1.5,"h":82.9},{"i":54,"c":"M","a":2,"h":88.0},{"i":54,"c":"M","a":3,"h":97.2},{"i":54,"c":"M","a":4,"h":104.5},{"i":54,"c":"M","a":6,"h":117.4},{"i":54,"c":"M","a":8,"h":130.1},{"i":54,"c":"M","a":10,"h":143.2},{"i":54,"c":"M","a":11,"h":151.5},{"i":54,"c":"M","a":12,"h":159.4},{"i":54,"c":"M","a":13,"h":164.1},{"i":54,"c":"M","a":14,"h":166.6},{"i":54,"c":"M","a":15,"h":168.0},{"i":54,"c":"M","a":16,"h":168.9},{"i":54,"c":"M","a":18,"h":169.6},
{"i":55,"c":"M","a":1,"h":76.6},{"i":55,"c":"M","a":1.5,"h":82.8},{"i":55,"c":"M","a":2,"h":87.9},{"i":55,"c":"M","a":3,"h":97.4},{"i":55,"c":"M","a":4,"h":104.7},{"i":55,"c":"M","a":6,"h":117.8},{"i":55,"c":"M","a":8,"h":130.3},{"i":55,"c":"M","a":10,"h":142.3},{"i":55,"c":"M","a":11,"h":149.0},{"i":55,"c":"M","a":12,"h":156.2},{"i":55,"c":"M","a":13,"h":161.6},{"i":55,"c":"M","a":14,"h":165.4},{"i":55,"c":"M","a":15,"h":167.7},{"i":55,"c":"M","a":16,"h":169.1},{"i":55,"c":"M","a":18,"h":170.1},
{"i":56,"c":"M","a":1,"h":76.3},{"i":56,"c":"M","a":1.5,"h":82.6},{"i":56,"c":"M","a":2,"h":87.9},{"i":56,"c":"M","a":3,"h":97.5},{"i":56,"c":"M","a":4,"h":105.0},{"i":56,"c":"M","a":6,"h":118.2},{"i":56,"c":"M","a":8,"h":130.5},{"i":56,"c":"M","a":10,"h":141.3},{"i":56,"c":"M","a":11,"h":146.6},{"i":56,"c":"M","a":12,"h":153.0},{"i":56,"c":"M","a":13,"h":159.2},{"i":56,"c":"M","a":14,"h":164.1},{"i":56,"c":"M","a":15,"h":167.4},{"i":56,"c":"M","a":16,"h":169.3},{"i":56,"c":"M","a":18,"h":170.6},
{"i":57,"c":"M","a":1,"h":78.0},{"i":57,"c":"M","a":1.5,"h":84.1},{"i":57,"c":"M","a":2,"h":89.1},{"i":57,"c":"M","a":3,"h":98.4},{"i":57,"c":"M","a":4,"h":105.7},{"i":57,"c":"M","a":6,"h":118.7},{"i":57,"c":"M","a":8,"h":131.4},{"i":57,"c":"M","a":10,"h":144.1},{"i":57,"c":"M","a":11,"h":151.7},{"i":57,"c":"M","a":12,"h":159.3},{"i":57,"c":"M","a":13,"h":164.3},{"i":57,"c":"M","a":14,"h":167.3},{"i":57,"c":"M","a":15,"h":169.1},{"i":57,"c":"M","a":16,"h":170.3},{"i":57,"c":"M","a":18,"h":171.1},
{"i":58,"c":"M","a":1,"h":77.5},{"i":58,"c":"M","a":1.5,"h":83.8},{"i":58,"c":"M","a":2,"h":89.0},{"i":58,"c":"M","a":3,"h":98.7},{"i":58,"c":"M","a":4,"h":106.2},{"i":58,"c":"M","a":6,"h":119.5},{"i":58,"c":"M","a":8,"h":132.2},{"i":58,"c":"M","a":10,"h":144.4},{"i":58,"c":"M","a":11,"h":151.3},{"i":58,"c":"M","a":12,"h":158.5},{"i":58,"c":"M","a":13,"h":163.9},{"i":58,"c":"M","a":14,"h":167.5},{"i":58,"c":"M","a":15,"h":169.8},{"i":58,"c":"M","a":16,"h":171.1},{"i":58,"c":"M","a":18,"h":172.1},
{"i":59,"c":"M","a":1,"h":78.0},{"i":59,"c":"M","a":1.5,"h":84.3},{"i":59,"c":"M","a":2,"h":89.6},{"i":59,"c":"M","a":3,"h":99.3},{"i":59,"c":"M","a":4,"h":106.9},{"i":59,"c":"M","a":6,"h":120.3},{"i":59,"c":"M","a":8,"h":133.1},{"i":59,"c":"M","a":10,"h":144.7},{"i":59,"c":"M","a":11,"h":150.9},{"i":59,"c":"M","a":12,"h":157.8},{"i":59,"c":"M","a":13,"h":163.6},{"i":59,"c":"M","a":14,"h":167.7},{"i":59,"c":"M","a":15,"h":170.4},{"i":59,"c":"M","a":16,"h":172.0},{"i":59,"c":"M","a":18,"h":173.2},
{"i":60,"c":"M","a":1,"h":78.1},{"i":60,"c":"M","a":1.5,"h":84.6},{"i":60,"c":"M","a":2,"h":90.1},{"i":60,"c":"M","a":3,"h":100.1},{"i":60,"c":"M","a":4,"h":107.9},{"i":60,"c":"M","a":6,"h":121.5},{"i":60,"c":"M","a":8,"h":134.6},{"i":60,"c":"M","a":10,"h":147.0},{"i":60,"c":"M","a":11,"h":154.1},{"i":60,"c":"M","a":12,"h":161.4},{"i":60,"c":"M","a":13,"h":166.8},{"i":60,"c":"M","a":14,"h":170.2},{"i":60,"c":"M","a":15,"h":172.4},{"i":60,"c":"M","a":16,"h":173.7},{"i":60,"c":"M","a":18,"h":174.7},
{"i":61,"c":"M","a":1,"h":82.0},{"i":61,"c":"M","a":1.5,"h":93.0},{"i":61,"c":"M","a":2,"h":99.5},{"i":61,"c":"M","a":3,"h":106.5},{"i":61,"c":"M","a":4,"h":115.0},{"i":61,"c":"M","a":6,"h":135.0},{"i":61,"c":"M","a":8,"h":154.0},{"i":61,"c":"M","a":10,"h":171.5},{"i":61,"c":"M","a":11,"h":176.5},{"i":61,"c":"M","a":12,"h":178.5},{"i":61,"c":"M","a":13,"h":179.5},{"i":61,"c":"M","a":14,"h":180.0},{"i":61,"c":"M","a":15,"h":180.5},{"i":61,"c":"M","a":16,"h":181.0},{"i":61,"c":"M","a":18,"h":181.5}
]},
"mark":{"type":"line","interpolate":"monotone","strokeWidth":1,"opacity":0.5},
"encoding":{
"x":{"field":"a","type":"quantitative","scale":{"domain":[0.15,18.85],"nice":false,"zero":false},"axis":{"values":[5,10,15],"title":"Age (years)"}},
"y":{"field":"h","type":"quantitative","scale":{"domain":[61.65,201.35],"nice":false,"zero":false},"axis":{"values":[100,150,200],"title":"Height (cm)"}},
"detail":{"field":"i","type":"nominal"},
"color":{"field":"c","type":"nominal","scale":{"domain":["F","M"],"range":["#FF0000","#00A087"]},
"legend":{"title":"case","orient":"none","legendX":749,"legendY":173,"titleFont":"Liberation Sans","titleFontSize":13,"titleFontWeight":"normal","titleColor":"#000000","titlePadding":8,"labelFont":"Liberation Serif","labelFontSize":11,"labelColor":"#000000","labelOffset":8,"symbolType":"stroke","symbolSize":400,"symbolStrokeWidth":1.2,"symbolOpacity":0.5,"rowPadding":5,"labelExpr":"datum.label == 'F' ? 'Female' : 'Male'"}}
}
}
